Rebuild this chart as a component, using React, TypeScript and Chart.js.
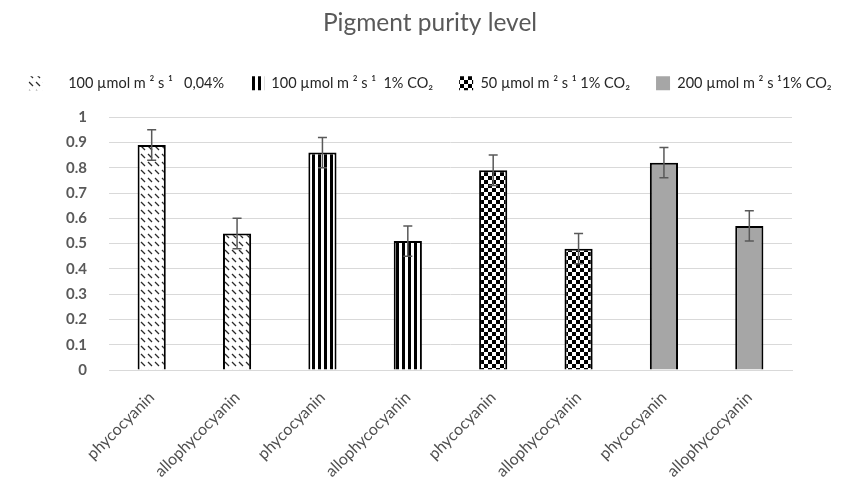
import React, { useEffect, useRef } from "react";
import { Chart, registerables } from "chart.js";

Chart.register(...registerables);

const categories = [
  "phycocyanin",
  "allophycocyanin",
  "phycocyanin",
  "allophycocyanin",
  "phycocyanin",
  "allophycocyanin",
  "phycocyanin",
  "allophycocyanin",
];

const seriesNames = [
  "     100 µmol m ² s ¹   0,04%",
  "100 µmol m ² s ¹  1% CO₂",
  "50 µmol m ² s ¹ 1% CO₂",
  "200 µmol m ² s ¹1% CO₂",
];

const series1 = [0.89, 0.54];
const series2 = [0.86, 0.51];
const series3 = [0.79, 0.48];
const series4 = [0.82, 0.57];

const err1 = [0.06, 0.06];
const err2 = [0.06, 0.06];
const err3 = [0.06, 0.06];
const err4 = [0.06, 0.06];

const yTicks = [0, 0.1, 0.2, 0.3, 0.4, 0.5, 0.6, 0.7, 0.8, 0.9, 1];

const FONT = "Lato, 'Open Sans', sans-serif";

function makePattern(ctx: CanvasRenderingContext2D, kind: string): CanvasPattern | string {
  const c = document.createElement("canvas");
  const g = c.getContext("2d")!;
  if (kind === "hatch") {
    c.width = 7;
    c.height = 8;
    g.fillStyle = "#ffffff";
    g.fillRect(0, 0, 7, 8);
    g.strokeStyle = "#2a2a2a";
    g.lineWidth = 1.3;
    g.beginPath();
    g.moveTo(1, 2);
    g.lineTo(5, 6);
    g.stroke();
  } else if (kind === "vstripe") {
    c.width = 6;
    c.height = 6;
    g.fillStyle = "#ffffff";
    g.fillRect(0, 0, 6, 6);
    g.fillStyle = "#000000";
    g.fillRect(0, 0, 3, 6);
  } else if (kind === "checker") {
    c.width = 8;
    c.height = 8;
    g.fillStyle = "#ffffff";
    g.fillRect(0, 0, 8, 8);
    g.fillStyle = "#000000";
    g.fillRect(0, 0, 4, 4);
    g.fillRect(4, 4, 4, 4);
  } else {
    return "#a6a6a6";
  }
  return ctx.createPattern(c, "repeat")!;
}

function spread(values: number[], slot: number): (number | null)[] {
  return categories.map((_, i) => (Math.floor(i / 2) === slot ? values[i % 2] : null));
}

export default function App() {
  const ref = useRef<HTMLCanvasElement>(null);

  useEffect(() => {
    document.body.style.margin = "0";
    const canvas = ref.current!;
    const ctx = canvas.getContext("2d")!;
    const kinds = ["hatch", "vstripe", "checker", "solid"];
    const all = [series1, series2, series3, series4];
    const errs = [err1, err2, err3, err4];

    const errorBars = {
      id: "errorBars",
      afterDatasetsDraw(chart: any) {
        const c = chart.ctx;
        const y = chart.scales.y;
        c.save();
        c.strokeStyle = "#595959";
        c.lineWidth = 1.5;
        chart.data.datasets.forEach((ds: any, di: number) => {
          const meta = chart.getDatasetMeta(di);
          meta.data.forEach((bar: any, j: number) => {
            const v = ds.data[j];
            const e = ds.errors[j];
            if (v == null || e == null) return;
            const x = bar.x;
            const yt = y.getPixelForValue(v + e);
            const yb = y.getPixelForValue(v - e);
            c.beginPath();
            c.moveTo(x, yt);
            c.lineTo(x, yb);
            c.moveTo(x - 4.5, yt);
            c.lineTo(x + 4.5, yt);
            c.moveTo(x - 4.5, yb);
            c.lineTo(x + 4.5, yb);
            c.stroke();
          });
        });
        c.restore();
      },
    };

    const chart = new Chart(canvas, {
      type: "bar",
      data: {
        labels: categories,
        datasets: all.map((vals, i) => ({
          label: seriesNames[i],
          data: spread(vals, i),
          errors: spread(errs[i], i),
          backgroundColor: makePattern(ctx, kinds[i]) as any,
          borderColor: "#000000",
          borderWidth: 2,
          grouped: false,
          categoryPercentage: 1,
          barPercentage: 0.33,
        })) as any,
      },
      options: {
        animation: false,
        responsive: true,
        maintainAspectRatio: false,
        layout: { padding: 0 },
        plugins: {
          title: {
            display: true,
            text: "Pigment purity level",
            color: "#595959",
            font: { family: FONT, size: 24.5, weight: "normal" },
            padding: { top: 8, bottom: 12.5 },
          },
          legend: {
            display: true,
            position: "top",
            labels: {
              boxWidth: 14,
              boxHeight: 14,
              padding: 26,
              color: "#262626",
              font: { family: FONT, size: 14.5 },
              generateLabels(chart: any) {
                const items = Chart.defaults.plugins.legend.labels.generateLabels(chart);
                return items.map((it: any) => ({ ...it, lineWidth: 0, strokeStyle: "rgba(0,0,0,0)" }));
              },
            },
          },
          tooltip: { enabled: false },
        },
        scales: {
          x: {
            grid: { display: false },
            border: { display: true, color: "#d9d9d9", width: 1 },
            ticks: {
              color: "#505050",
              padding: 10,
              font: { family: FONT, size: 16 },
              minRotation: 45,
              maxRotation: 45,
              autoSkip: false,
            },
            afterFit(s: any) {
              s.height = 118;
            },
          },
          spacer: {
            type: "category",
            position: "top",
            display: true,
            grid: { display: false },
            border: { display: false },
            ticks: { display: false },
            afterFit(s: any) {
              s.height = 16.75;
            },
          },
          y: {
            min: 0,
            max: 1,
            afterBuildTicks(s: any) {
              s.ticks = yTicks.map((v) => ({ value: v }));
            },
            grid: { color: "#d9d9d9", lineWidth: 1, drawTicks: false },
            border: { display: false },
            ticks: {
              color: "#595959",
              padding: 22,
              autoSkip: false,
              font: { family: FONT, size: 15, weight: "bold" },
              callback: (v: any) => String(Math.round(Number(v) * 10) / 10),
            },
            afterFit(s: any) {
              s.width = 109;
            },
          },
          rightSpacer: {
            type: "linear",
            position: "right",
            display: true,
            grid: { display: false },
            border: { display: false },
            ticks: { display: false },
            afterFit(s: any) {
              s.width = 68;
            },
          },
        } as any,
      },
      plugins: [errorBars],
    });
    return () => chart.destroy();
  }, []);

  return (
    <div style={{ position: "fixed", left: 0, top: 0, width: 860, height: 488 }}>
      <canvas ref={ref} />
    </div>
  );
}
